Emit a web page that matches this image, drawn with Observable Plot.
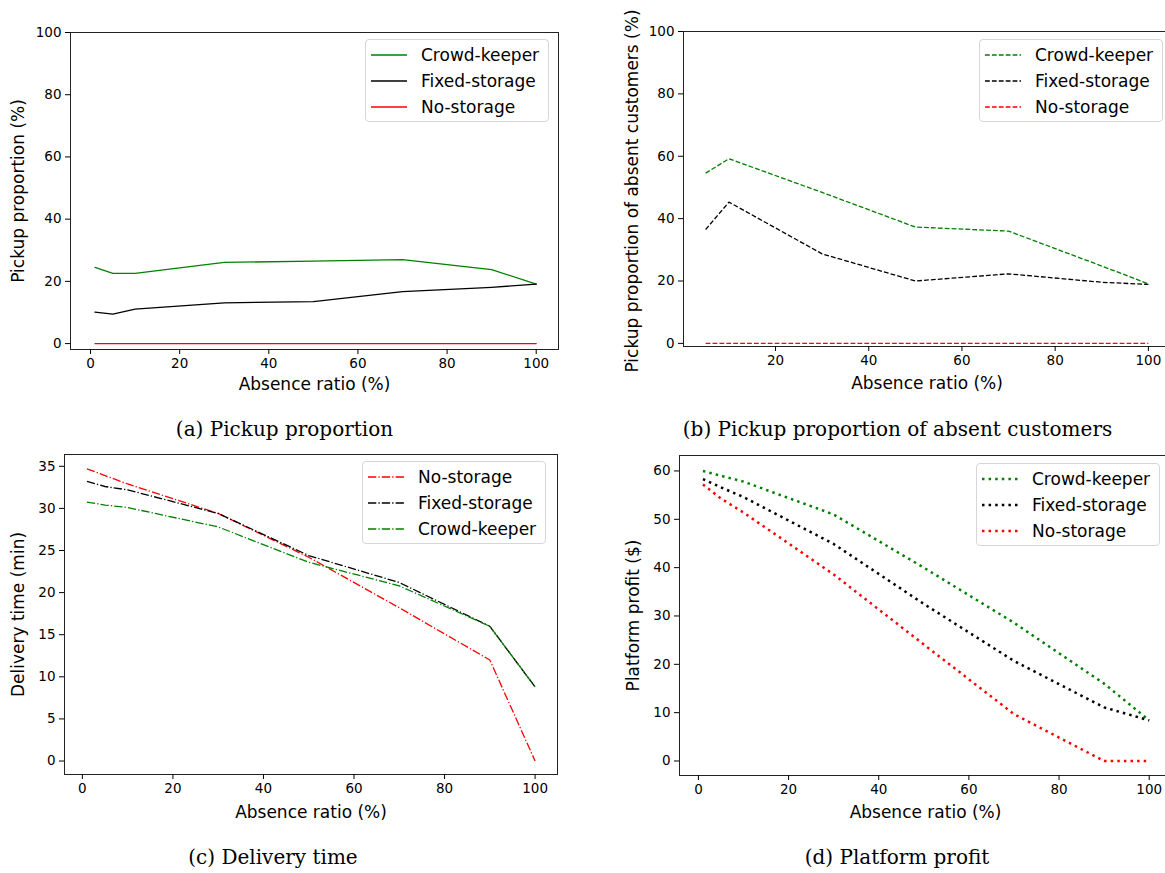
<!DOCTYPE html>
<html>
<head>
<meta charset="utf-8">
<script src="https://cdn.jsdelivr.net/npm/d3@7"></script>
<script src="https://cdn.jsdelivr.net/npm/@observablehq/plot@0.6"></script>
<style>
  html, body { margin: 0; padding: 0; background: #fff; overflow: hidden; }
  #root { position: relative; width: 1165px; height: 873px; overflow: hidden; background: #fff; }
  .cap { position: absolute; font-family: "DejaVu Serif", serif; font-size: 20px; color: #000; white-space: nowrap; transform: translate(-50%, -50%); }
  .leg { position: absolute; box-sizing: border-box; width: 184px; height: 83px; border: 1px solid #d6d6d6; border-radius: 4px; background: rgba(255,255,255,0.85); }
  .leg .row { position: absolute; left: 0; height: 20px; width: 182px; }
  .leg .row svg { position: absolute; left: 5px; top: 5px; }
  .leg .row span { position: absolute; left: 55px; top: 0; line-height: 20px; font-family: "DejaVu Sans", sans-serif; font-size: 17px; color: #000; white-space: nowrap; }
</style>
</head>
<body>
<div id="root"></div>
<script>
// ---------------- data ----------------
const absence = [1, 5, 10, 30, 50, 70, 90, 100];
const absenceB = [5, 10, 30, 50, 70, 90, 100];

// (a) Pickup proportion (%)
const pickupCrowd = [24.5, 22.6, 22.6, 26.1, 26.5, 27.0, 23.8, 19.1];
const pickupFixed = [10.1, 9.5, 11.1, 13.1, 13.5, 16.7, 18.1, 19.1];
const pickupNo    = [0, 0, 0, 0, 0, 0, 0, 0];

// (b) Pickup proportion of absent customers (%)
const absentCrowd = [54.6, 59.2, 48.4, 37.3, 36.0, 24.8, 19.1];
const absentFixed = [36.5, 45.3, 28.7, 20.0, 22.3, 19.6, 18.9];
const absentNo    = [0, 0, 0, 0, 0, 0, 0];

// (c) Delivery time (min)
const timeNo    = [34.7, 33.9, 32.9, 29.4, 24.2, 18.2, 12.0, 0];
const timeFixed = [33.2, 32.6, 32.2, 29.4, 24.4, 21.2, 16.0, 8.8];
const timeCrowd = [30.75, 30.4, 30.1, 27.8, 23.6, 20.8, 16.0, 8.8];

// (d) Platform profit ($)
const profitCrowd = [60.0, 59.0, 57.8, 51.0, 40.0, 28.6, 16.0, 8.4];
const profitFixed = [58.3, 56.6, 54.6, 44.9, 32.5, 20.7, 11.1, 8.4];
const profitNo    = [57.2, 54.3, 51.4, 38.6, 24.1, 9.7, 0, 0];

const ticks0to100 = [0, 20, 40, 60, 80, 100];
const ticks20to100 = [20, 40, 60, 80, 100];
const ticksTime = [0, 5, 10, 15, 20, 25, 30, 35];
const ticksProfit = [0, 10, 20, 30, 40, 50, 60];

const captions = ["(a) Pickup proportion", "(b) Pickup proportion of absent customers", "(c) Delivery time", "(d) Platform profit"];

// ---------------- helpers ----------------
const GREEN = "#008000", BLACK = "#000000", RED = "#ff0000";
const STYLES = {
  solid:  {strokeWidth: 1.3, strokeDasharray: null},
  dashed: {strokeWidth: 1.3, strokeDasharray: "4.8,2.1"},
  dashdot:{strokeWidth: 1.3, strokeDasharray: "8.3,2.1,1.3,2.1"},
  dotted: {strokeWidth: 2.5, strokeDasharray: "2.5,4.1"}
};

function lineMark(xs, ys, color, style) {
  const s = STYLES[style];
  return Plot.line(xs.map((x, i) => [x, ys[i]]), {
    x: d => d[0], y: d => d[1],
    stroke: color, strokeWidth: s.strokeWidth,
    strokeDasharray: s.strokeDasharray || undefined,
    strokeLinecap: s.strokeDasharray ? "butt" : "round",
    strokeLinejoin: "round"
  });
}

function panel(cfg) {
  const svg = Plot.plot({
    width: cfg.width, height: cfg.height,
    marginLeft: cfg.ml, marginRight: cfg.mr, marginTop: cfg.mt, marginBottom: cfg.mb,
    style: {fontFamily: "DejaVu Sans, sans-serif", color: "#000", background: "transparent", position: "absolute", left: cfg.left + "px", top: cfg.top + "px", maxWidth: "none", overflow: "visible"},
    x: {domain: cfg.xdomain},
    y: {domain: cfg.ydomain},
    marks: [
      ...cfg.series.map(s => lineMark(s.x, s.y, s.color, cfg.style)),
      Plot.frame({stroke: "#222", strokeWidth: 1}),
      Plot.axisX({ticks: cfg.xticks, tickSize: 5, tickPadding: 4, fontSize: 13.5, label: null}),
      Plot.axisY({ticks: cfg.yticks, tickSize: 5, tickPadding: 4, fontSize: 13.5, label: null}),
      Plot.text([cfg.xlabel], {text: d => d, frameAnchor: "bottom", dy: cfg.xlabelDy, fontSize: 17, textAnchor: "middle", lineAnchor: "middle"}),
      Plot.text([cfg.ylabel], {text: d => d, frameAnchor: "left", dx: cfg.ylabelDx, dy: cfg.ylabelDy || 0, rotate: -90, fontSize: 17, textAnchor: "middle", lineAnchor: "middle"})
    ]
  });
  return svg;
}

function legend(left, top, items, style) {
  const s = STYLES[style];
  const box = document.createElement("div");
  box.className = "leg";
  box.style.left = left + "px";
  box.style.top = top + "px";
  items.forEach((it, i) => {
    const row = document.createElement("div");
    row.className = "row";
    row.style.top = (5 + i * 26) + "px";
    const dash = s.strokeDasharray ? ` stroke-dasharray="${s.strokeDasharray}" stroke-linecap="butt"` : "";
    row.innerHTML = `<svg width="37" height="10"><line x1="0" y1="5" x2="36" y2="5" stroke="${it.color}" stroke-width="${s.strokeWidth}"${dash}/></svg><span>${it.label}</span>`;
    box.appendChild(row);
  });
  return box;
}

function caption(text, cx, cy) {
  const d = document.createElement("div");
  d.className = "cap";
  d.textContent = text;
  d.style.left = cx + "px";
  d.style.top = cy + "px";
  return d;
}

// ---------------- build ----------------
const root = document.getElementById("root");

root.appendChild(panel({
  left: 0, top: 0, width: 582, height: 400, ml: 70, mr: 24, mt: 32, mb: 51,
  xdomain: [-4.5, 105], ydomain: [-1.9, 100], xticks: ticks0to100, yticks: ticks0to100,
  style: "solid",
  series: [
    {x: absence, y: pickupCrowd, color: GREEN},
    {x: absence, y: pickupFixed, color: BLACK},
    {x: absence, y: pickupNo, color: RED}
  ],
  xlabel: "Absence ratio (%)", xlabelDy: 35,
  ylabel: "Pickup proportion (%)", ylabelDx: -52
}));

root.appendChild(panel({
  left: 582, top: 0, width: 600, height: 400, ml: 101, mr: 12, mt: 31, mb: 54,
  xdomain: [0.25, 104.75], ydomain: [-1, 100], xticks: ticks20to100, yticks: ticks0to100,
  style: "dashed",
  series: [
    {x: absenceB, y: absentCrowd, color: GREEN},
    {x: absenceB, y: absentFixed, color: BLACK},
    {x: absenceB, y: absentNo, color: RED}
  ],
  xlabel: "Absence ratio (%)", xlabelDy: 37,
  ylabel: "Pickup proportion of absent customers (%)", ylabelDx: -51, ylabelDy: 2
}));

root.appendChild(panel({
  left: 0, top: 420, width: 582, height: 420, ml: 64, mr: 25, mt: 34, mb: 66,
  xdomain: [-3.95, 104.95], ydomain: [-1.6, 36.4], xticks: ticks0to100, yticks: ticksTime,
  style: "dashdot",
  series: [
    {x: absence, y: timeNo, color: RED},
    {x: absence, y: timeFixed, color: BLACK},
    {x: absence, y: timeCrowd, color: GREEN}
  ],
  xlabel: "Absence ratio (%)", xlabelDy: 38,
  ylabel: "Delivery time (min)", ylabelDx: -46
}));

root.appendChild(panel({
  left: 582, top: 420, width: 600, height: 420, ml: 97, mr: 11, mt: 35, mb: 65,
  xdomain: [-4.2, 104.95], ydomain: [-3, 63.2], xticks: ticks0to100, yticks: ticksProfit,
  style: "dotted",
  series: [
    {x: absence, y: profitCrowd, color: GREEN},
    {x: absence, y: profitFixed, color: BLACK},
    {x: absence, y: profitNo, color: RED}
  ],
  xlabel: "Absence ratio (%)", xlabelDy: 37,
  ylabel: "Platform profit ($)", ylabelDx: -46
}));

root.appendChild(legend(365, 39, [
  {label: "Crowd-keeper", color: GREEN}, {label: "Fixed-storage", color: BLACK}, {label: "No-storage", color: RED}
], "solid"));
root.appendChild(legend(979, 39, [
  {label: "Crowd-keeper", color: GREEN}, {label: "Fixed-storage", color: BLACK}, {label: "No-storage", color: RED}
], "dashed"));
root.appendChild(legend(362, 461, [
  {label: "No-storage", color: RED}, {label: "Fixed-storage", color: BLACK}, {label: "Crowd-keeper", color: GREEN}
], "dashdot"));
root.appendChild(legend(976, 463, [
  {label: "Crowd-keeper", color: GREEN}, {label: "Fixed-storage", color: BLACK}, {label: "No-storage", color: RED}
], "dotted"));

root.appendChild(caption(captions[0], 284.5, 429));
root.appendChild(caption(captions[1], 897.5, 429));
root.appendChild(caption(captions[2], 273, 857));
root.appendChild(caption(captions[3], 897, 857));
</script>
</body>
</html>
